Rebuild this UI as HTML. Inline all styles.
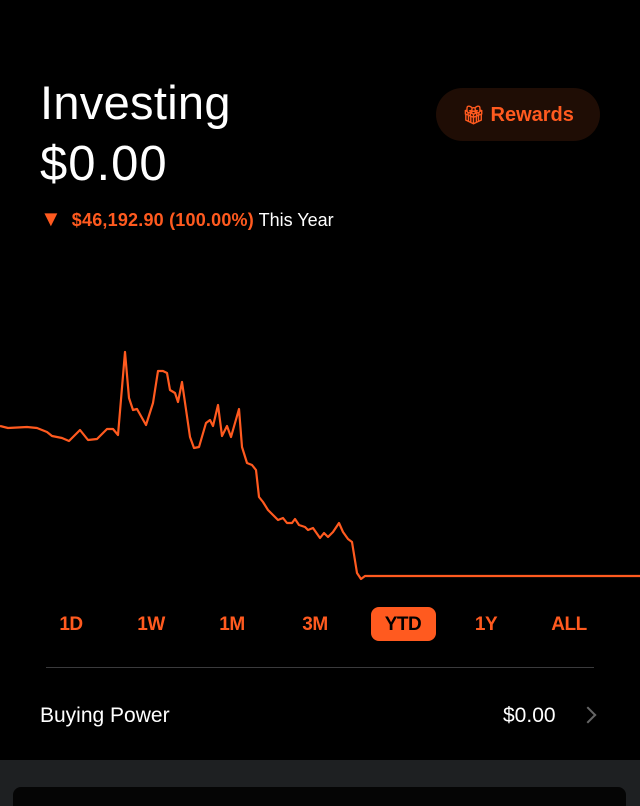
<!DOCTYPE html>
<html><head><meta charset="utf-8"><style>
html,body{margin:0;width:640px;height:806px;overflow:hidden}
body{background:#000;font-family:"Liberation Sans",sans-serif;position:relative;color:#fff}
.abs{position:absolute}
.tb{position:absolute;top:614px;font-size:19px;font-weight:bold;color:#ff5a1f;transform:translateX(-50%);letter-spacing:-0.5px}
</style></head><body>
<div class="abs" style="left:40px;top:75px;font-size:47px;letter-spacing:0.3px">Investing</div>
<div class="abs" style="left:40px;top:136px;font-size:49px;letter-spacing:1px">$0.00</div>
<div class="abs" style="left:40px;top:210px;font-size:18px;">
<span style="color:#ff5a1f;font-size:22px;line-height:17px">▼</span>&nbsp;&nbsp;<span style="color:#ff5a1f;font-weight:bold;letter-spacing:0.2px">$46,192.90 (100.00%)</span> This Year</div>
<div class="abs" style="left:436px;top:88px;width:164px;height:53px;border-radius:27px;background:#1f0d05;color:#ff5a1f;font-weight:bold;font-size:20px;line-height:55px;text-align:center;">
<span style="font-size:18px">🎁︎</span> Rewards</div>
<svg class="abs" style="left:0;top:0" width="640" height="600">
<path id="line" fill="none" stroke="#ff5a1f" stroke-width="2.2" stroke-linejoin="round"/>
</svg>
<script>
const days=[0,8,27,37,47,52,62,69,80,88,97,107,113,118,125,129,133,137,146,153,158,163,167,170,175,178,182,190,194,199,206,210,213,218,222,227,231,239,242,247,252,256,259,263,268,278,283,287,292,295,299,305,308,313,320,324,328,333,339,343,348,352,357,361,365,640];
const values=[174,172,173,172,168,164,162,159,170,160,161,171,171,165,248,202,190,191,175,197,229,229,227,210,207,198,218,163,152,153,177,180,174,195,164,174,163,191,153,137,135,130,103,98,90,80,82,77,77,81,75,73,70,72,62,67,63,68,77,68,61,58,27,21,24,24];
const xScale=d=>d*1;
const yScale=v=>600-v;
let dstr='';
for(let i=0;i<days.length;i++){dstr+=(i?'L':'M')+xScale(days[i])+','+yScale(values[i]);}
document.getElementById('line').setAttribute('d',dstr);
</script>
<div class="abs" style="left:371px;top:607px;width:65px;height:34px;border-radius:8px;background:#ff5a1f"></div>
<div class="tb" style="left:71px">1D</div>
<div class="tb" style="left:151px">1W</div>
<div class="tb" style="left:232px">1M</div>
<div class="tb" style="left:315px">3M</div>
<div class="tb" style="left:403px;color:#000">YTD</div>
<div class="tb" style="left:486px">1Y</div>
<div class="tb" style="left:569px">ALL</div>
<div class="abs" style="left:46px;top:667px;width:548px;height:1px;background:#3a3a3c"></div>
<div class="abs" style="left:40px;top:704px;font-size:21px;">Buying Power</div>
<div class="abs" style="left:503px;top:704px;font-size:21px;">$0.00</div>
<div class="abs" style="left:582px;top:709px;width:10px;height:10px;border-right:2.5px solid #666;border-top:2.5px solid #666;transform:rotate(45deg);"></div>
<div class="abs" style="left:0;top:760px;width:640px;height:46px;background:#1e2022;overflow:hidden">
<div class="abs" style="left:13px;top:27px;width:613px;height:30px;border-radius:8px;background:#050505"></div>
</div>
</body></html>
